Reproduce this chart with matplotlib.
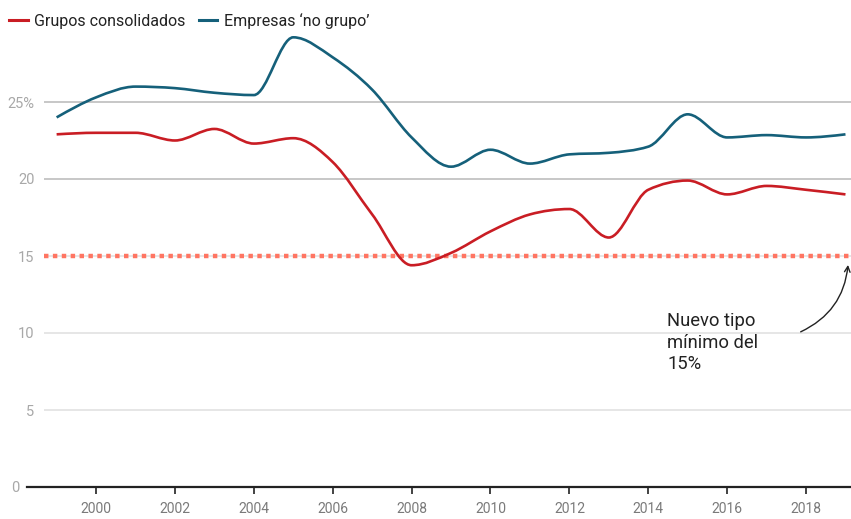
import numpy as np
import matplotlib.pyplot as plt
from matplotlib.path import Path
from matplotlib.patches import PathPatch
from matplotlib.lines import Line2D
from matplotlib.transforms import ScaledTranslation

plt.rcParams['font.family'] = ['Roboto', 'DejaVu Sans']

# data
years = list(range(1999, 2020))
grupos = [22.9, 23.0, 23.0, 22.5, 23.25, 22.3, 22.65, 21.1, 17.7, 14.4, 15.2,
          16.6, 17.7, 18.05, 16.2, 19.3, 19.9, 19.0, 19.55, 19.3, 19.0]
no_grupo = [24.0, 25.3, 26.0, 25.9, 25.6, 25.45, 29.2, 27.9, 25.8, 22.7, 20.8,
            21.9, 21.0, 21.6, 21.7, 22.1, 24.2, 22.7, 22.85, 22.7, 22.9]
min_rate = 15
yticks = [0, 5, 10, 15, 20, 25]
ytick_labels = ['0', '5', '10', '15', '20', '25%']
xticks = list(range(2000, 2019, 2))

RED = '#c91d24'
BLUE = '#15607a'
DOT = '#ff7562'


def monotone_path(x, y):
    # monotone cubic (like d3 curveMonotoneX) as bezier segments
    x = np.asarray(x, float)
    y = np.asarray(y, float)
    h = np.diff(x)
    s = np.diff(y) / h
    n = len(x)
    t = np.zeros(n)
    for i in range(1, n - 1):
        if s[i - 1] * s[i] <= 0:
            t[i] = 0
        else:
            p = (s[i - 1] * h[i] + s[i] * h[i - 1]) / (h[i - 1] + h[i])
            t[i] = (np.sign(s[i - 1]) + np.sign(s[i])) * min(abs(s[i - 1]), abs(s[i]), 0.5 * abs(p))
    t[0] = (3 * s[0] - t[1]) / 2
    t[-1] = (3 * s[-1] - t[-2]) / 2
    verts = [(x[0], y[0])]
    codes = [Path.MOVETO]
    for i in range(n - 1):
        dx = h[i] / 3
        verts += [(x[i] + dx, y[i] + dx * t[i]),
                  (x[i + 1] - dx, y[i + 1] - dx * t[i + 1]),
                  (x[i + 1], y[i + 1])]
        codes += [Path.CURVE4] * 3
    return Path(verts, codes)


fig = plt.figure(figsize=(8.51, 5.19), dpi=100)
ax = fig.add_axes([44 / 851, 32 / 519, 807 / 851, 462 / 519])
ax.set_xlim(1998.68, 2019.14)
ax.set_ylim(0, 30)

# grid
for v in yticks[1:]:
    col = '#bdbdbd' if v >= 20 else '#e2e2e2'
    ax.axhline(v, color=col, lw=1.2, zorder=1)
ax.axhline(0, xmin=-0.021, xmax=1, color='#222222', lw=1.6, clip_on=False, zorder=3)

# minimum rate line
ax.axhline(min_rate, color=DOT, lw=3.2, linestyle=(0, (1, 1)), zorder=2)

ax.add_patch(PathPatch(monotone_path(years, no_grupo), fill=False, ec=BLUE, lw=1.9, zorder=4))
ax.add_patch(PathPatch(monotone_path(years, grupos), fill=False, ec=RED, lw=1.9, zorder=4))

for s in ax.spines.values():
    s.set_visible(False)

ax.set_yticks(yticks)
ax.set_yticklabels(ytick_labels)
ax.tick_params(axis='y', length=0, pad=7, labelsize=10.5, labelcolor='#a8a8a8')
lbl0 = ax.get_yticklabels()[0]
lbl0.set_transform(lbl0.get_transform() + ScaledTranslation(-15 / 100, 0, fig.dpi_scale_trans))

ax.set_xticks(xticks)
ax.set_xticklabels([str(x) for x in xticks])
ax.tick_params(axis='x', length=5, width=1.2, color='#222222', pad=6,
               labelsize=10, labelcolor='#7a7a7a')

# annotation
ax.text(2014.48, 11.35, 'Nuevo tipo\nmínimo del\n15%', fontsize=13.2, color='#222222',
        va='top', ha='left', linespacing=1.25)
ax.annotate('', xy=(2019.07, 14.6), xytext=(2017.8, 10.0),
            arrowprops=dict(arrowstyle='->', color='#222222', lw=1,
                            connectionstyle='arc3,rad=0.3'), annotation_clip=False)

# legend
handles = [Line2D([], [], color=RED, lw=2.2), Line2D([], [], color=BLUE, lw=2.2)]
fig.legend(handles, ['Grupos consolidados', 'Empresas \u2018no grupo\u2019'],
           loc='upper left', bbox_to_anchor=(-0.006, 1.003), ncol=2, frameon=False,
           fontsize=11.5, handlelength=1.15, handletextpad=0.4, columnspacing=0.85,
           labelcolor='#222222')

fig.savefig('out.png', dpi=100)
